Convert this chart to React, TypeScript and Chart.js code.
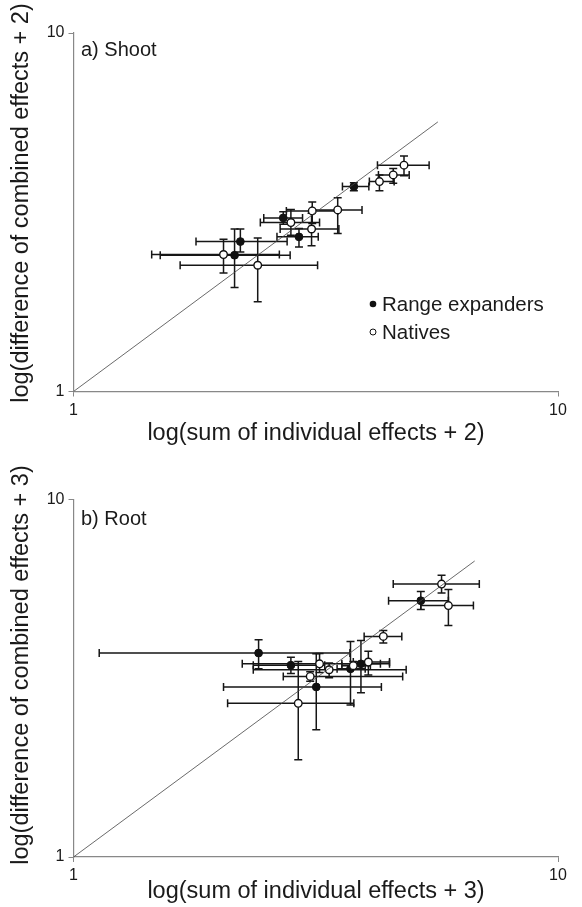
import React, { useEffect, useRef } from "react";
import { Chart, registerables } from "chart.js";

Chart.register(...registerables);

// ---------- Panel a) Shoot ----------
const shootExpX = [3.79, 2.71, 2.92, 2.21, 2.15];
const shootExpY = [3.73, 3.05, 2.70, 2.62, 2.40];
const shootExpXLo = [3.59, 2.47, 2.63, 1.79, 1.51];
const shootExpXHi = [4.07, 2.97, 3.20, 2.76, 2.80];
const shootExpYLo = [3.63, 2.93, 2.53, 2.45, 1.95];
const shootExpYHi = [3.82, 3.17, 2.85, 2.84, 2.84];

const shootNatX = [4.81, 4.57, 4.28, 3.51, 3.11, 2.81, 3.10, 2.04, 2.40];
const shootNatY = [4.28, 4.02, 3.85, 3.21, 3.19, 2.96, 2.84, 2.41, 2.25];
const shootNatXLo = [4.24, 4.26, 4.08, 3.11, 2.75, 2.43, 2.67, 1.45, 1.66];
const shootNatXHi = [5.42, 4.93, 4.59, 3.94, 3.51, 3.22, 3.53, 2.66, 3.19];
const shootNatYLo = [4.0, 3.81, 3.63, 2.76, 2.94, 2.73, 2.55, 2.14, 1.78];
const shootNatYHi = [4.54, 4.19, 4.02, 3.47, 3.38, 3.22, 3.14, 2.66, 2.68];

const shootLineEnd = 5.65;

// ---------- Panel b) Root ----------
const rootExpX = [5.21, 2.41, 2.81, 3.17, 3.73, 3.92];
const rootExpY = [5.21, 3.72, 3.44, 2.99, 3.36, 3.47];
const rootExpXLo = [4.47, 1.13, 2.35, 2.04, 3.50, 3.58];
const rootExpXHi = [5.94, 3.72, 3.30, 4.32, 4.00, 4.30];
const rootExpYLo = [4.92, 3.36, 3.26, 2.27, 2.66, 2.88];
const rootExpYHi = [5.53, 4.05, 3.62, 3.70, 4.01, 4.03];

const rootNatX = [5.75, 5.94, 4.36, 3.22, 3.37, 3.08, 2.91, 3.78, 4.06];
const rootNatY = [5.80, 5.05, 4.14, 3.47, 3.34, 3.20, 2.69, 3.43, 3.51];
const rootNatXLo = [4.57, 5.21, 3.98, 2.23, 2.35, 2.71, 2.08, 3.58, 3.78];
const rootNatXHi = [6.88, 6.69, 4.76, 4.49, 4.86, 4.78, 3.79, 4.10, 4.49];
const rootNatYLo = [5.48, 4.44, 3.97, 3.28, 3.17, 3.10, 1.87, 3.35, 3.23];
const rootNatYHi = [6.14, 5.60, 4.30, 3.71, 3.49, 3.30, 3.52, 3.52, 3.76];

const rootLineEnd = 6.73;

const axisTicks = [1, 10];
const legendLabels = ["Range expanders", "Natives"];

const FONT = "'Liberation Sans', Arial, Helvetica, sans-serif";

function pts(x: number[], y: number[], xl: number[], xh: number[], yl: number[], yh: number[]) {
  return x.map((v, i) => ({ x: v, y: y[i], xLo: xl[i], xHi: xh[i], yLo: yl[i], yHi: yh[i] }));
}

const errorBarPlugin = {
  id: "errorBars",
  beforeDatasetsDraw(chart: any) {
    const { ctx } = chart;
    const xs = chart.scales.x;
    const ys = chart.scales.y;
    ctx.save();
    chart.data.datasets.forEach((ds: any) => {
      if (!ds.errorBars) return;
      ds.data.forEach((p: any) => {
        const px = xs.getPixelForValue(p.x);
        const py = ys.getPixelForValue(p.y);
        const xl = xs.getPixelForValue(p.xLo);
        const xh = xs.getPixelForValue(p.xHi);
        const yl = ys.getPixelForValue(p.yLo);
        const yh = ys.getPixelForValue(p.yHi);
        const c = 4;
        ctx.strokeStyle = "#161616";
        ctx.lineWidth = 1.5;
        ctx.beginPath();
        ctx.moveTo(xl, py);
        ctx.lineTo(xh, py);
        ctx.moveTo(xl, py - c);
        ctx.lineTo(xl, py + c);
        ctx.moveTo(xh, py - c);
        ctx.lineTo(xh, py + c);
        ctx.moveTo(px, yl);
        ctx.lineTo(px, yh);
        ctx.moveTo(px - c, yl);
        ctx.lineTo(px + c, yl);
        ctx.moveTo(px - c, yh);
        ctx.lineTo(px + c, yh);
        ctx.stroke();
      });
    });
    ctx.restore();
  },
};

const textPlugin = {
  id: "panelText",
  afterDraw(chart: any, _args: any, opts: any) {
    const { ctx } = chart;
    ctx.save();
    ctx.fillStyle = "#1a1a1a";
    ctx.font = `20px ${FONT}`;
    ctx.textAlign = "left";
    ctx.textBaseline = "middle";
    ctx.fillText(opts.label, opts.labelX, opts.labelY);
    ctx.font = `23.5px ${FONT}`;
    ctx.textAlign = "center";
    ctx.fillText(opts.xTitle, opts.xTitleX, opts.xTitleY);
    ctx.save();
    ctx.translate(opts.yTitleX, opts.yTitleY);
    ctx.rotate(-Math.PI / 2);
    ctx.fillText(opts.yTitle, 0, 0);
    ctx.restore();
    if (opts.legend) {
      ctx.font = `20.5px ${FONT}`;
      ctx.textAlign = "left";
      const lx = opts.legendX;
      const ly = opts.legendY;
      ctx.beginPath();
      ctx.arc(lx, ly, 3.3, 0, Math.PI * 2);
      ctx.fillStyle = "#111";
      ctx.fill();
      ctx.fillStyle = "#1a1a1a";
      ctx.fillText(legendLabels[0], lx + 9, ly + 1);
      ctx.beginPath();
      ctx.arc(lx, ly + 28, 3.0, 0, Math.PI * 2);
      ctx.fillStyle = "#fff";
      ctx.fill();
      ctx.strokeStyle = "#111";
      ctx.lineWidth = 1;
      ctx.stroke();
      ctx.fillStyle = "#1a1a1a";
      ctx.fillText(legendLabels[1], lx + 9, ly + 29);
    }
    ctx.restore();
  },
};

function makeConfig(
  exp: any[],
  nat: any[],
  lineEnd: number,
  top: number,
  xHeight: number,
  text: any
): any {
  return {
    type: "scatter",
    data: {
      datasets: [
        {
          type: "line",
          data: [
            { x: 1, y: 1 },
            { x: lineEnd, y: lineEnd },
          ],
          borderColor: "#444",
          borderWidth: 0.8,
          pointRadius: 0,
          fill: false,
        },
        {
          label: legendLabels[1],
          data: nat,
          errorBars: true,
          pointRadius: 3.8,
          pointBackgroundColor: "#fff",
          pointBorderColor: "#111",
          pointBorderWidth: 1.4,
        },
        {
          label: legendLabels[0],
          data: exp,
          errorBars: true,
          pointRadius: 3.9,
          pointBackgroundColor: "#111",
          pointBorderColor: "#111",
          pointBorderWidth: 1,
        },
      ],
    },
    options: {
      animation: false,
      responsive: false,
      devicePixelRatio: 1,
      layout: { padding: { top, right: 24, left: 0, bottom: 0 } },
      plugins: {
        legend: { display: false },
        tooltip: { enabled: false },
        panelText: text,
      },
      scales: {
        x: {
          type: "logarithmic",
          min: 1,
          max: 10,
          afterBuildTicks: (s: any) => {
            s.ticks = axisTicks.map((v) => ({ value: v }));
          },
          afterFit: (s: any) => {
            s.height = xHeight;
          },
          ticks: {
            callback: (v: any) => String(v),
            font: { family: FONT, size: 16 },
            color: "#1a1a1a",
            padding: 4,
            maxRotation: 0,
            autoSkip: false,
          },
          grid: { display: true, drawOnChartArea: false, tickLength: 5, color: "#888" },
          border: { display: true, color: "#888", width: 1.2 },
        },
        y: {
          type: "logarithmic",
          min: 1,
          max: 10,
          afterBuildTicks: (s: any) => {
            s.ticks = axisTicks.map((v) => ({ value: v }));
          },
          afterFit: (s: any) => {
            s.width = 73.5;
          },
          ticks: {
            callback: (v: any) => String(v),
            font: { family: FONT, size: 16 },
            color: "#1a1a1a",
            padding: 4,
            autoSkip: false,
          },
          grid: { display: true, drawOnChartArea: false, tickLength: 5, color: "#888" },
          border: { display: true, color: "#888", width: 1.2 },
        },
      },
    },
    plugins: [errorBarPlugin, textPlugin],
  };
}

function Panel(props: { config: any; height: number }) {
  const ref = useRef<HTMLCanvasElement | null>(null);
  useEffect(() => {
    if (!ref.current) return;
    const chart = new Chart(ref.current, props.config);
    return () => chart.destroy();
  }, []);
  return (
    <canvas
      ref={ref}
      width={582}
      height={props.height}
      style={{ display: "block", width: 582, height: props.height }}
    />
  );
}

export default function App() {
  const shootCfg = makeConfig(
    pts(shootExpX, shootExpY, shootExpXLo, shootExpXHi, shootExpYLo, shootExpYHi),
    pts(shootNatX, shootNatY, shootNatXLo, shootNatXHi, shootNatYLo, shootNatYHi),
    shootLineEnd,
    33,
    61.5,
    {
      label: "a) Shoot",
      labelX: 81,
      labelY: 50,
      xTitle: "log(sum of individual effects + 2)",
      xTitleX: 316,
      xTitleY: 434,
      yTitle: "log(difference of combined effects + 2)",
      yTitleX: 22,
      yTitleY: 203,
      legend: true,
      legendX: 373,
      legendY: 304,
    }
  );
  const rootCfg = makeConfig(
    pts(rootExpX, rootExpY, rootExpXLo, rootExpXHi, rootExpYLo, rootExpYHi),
    pts(rootNatX, rootNatY, rootNatXLo, rootNatXHi, rootNatYLo, rootNatYHi),
    rootLineEnd,
    46.5,
    50,
    {
      label: "b) Root",
      labelX: 81,
      labelY: 66,
      xTitle: "log(sum of individual effects + 3)",
      xTitleX: 316,
      xTitleY: 439,
      yTitle: "log(difference of combined effects + 3)",
      yTitleX: 22,
      yTitleY: 212,
      legend: false,
    }
  );
  return (
    <div style={{ position: "absolute", left: 0, top: 0, width: 582, height: 907, background: "#fff" }}>
      <Panel config={shootCfg} height={453} />
      <Panel config={rootCfg} height={454} />
    </div>
  );
}
